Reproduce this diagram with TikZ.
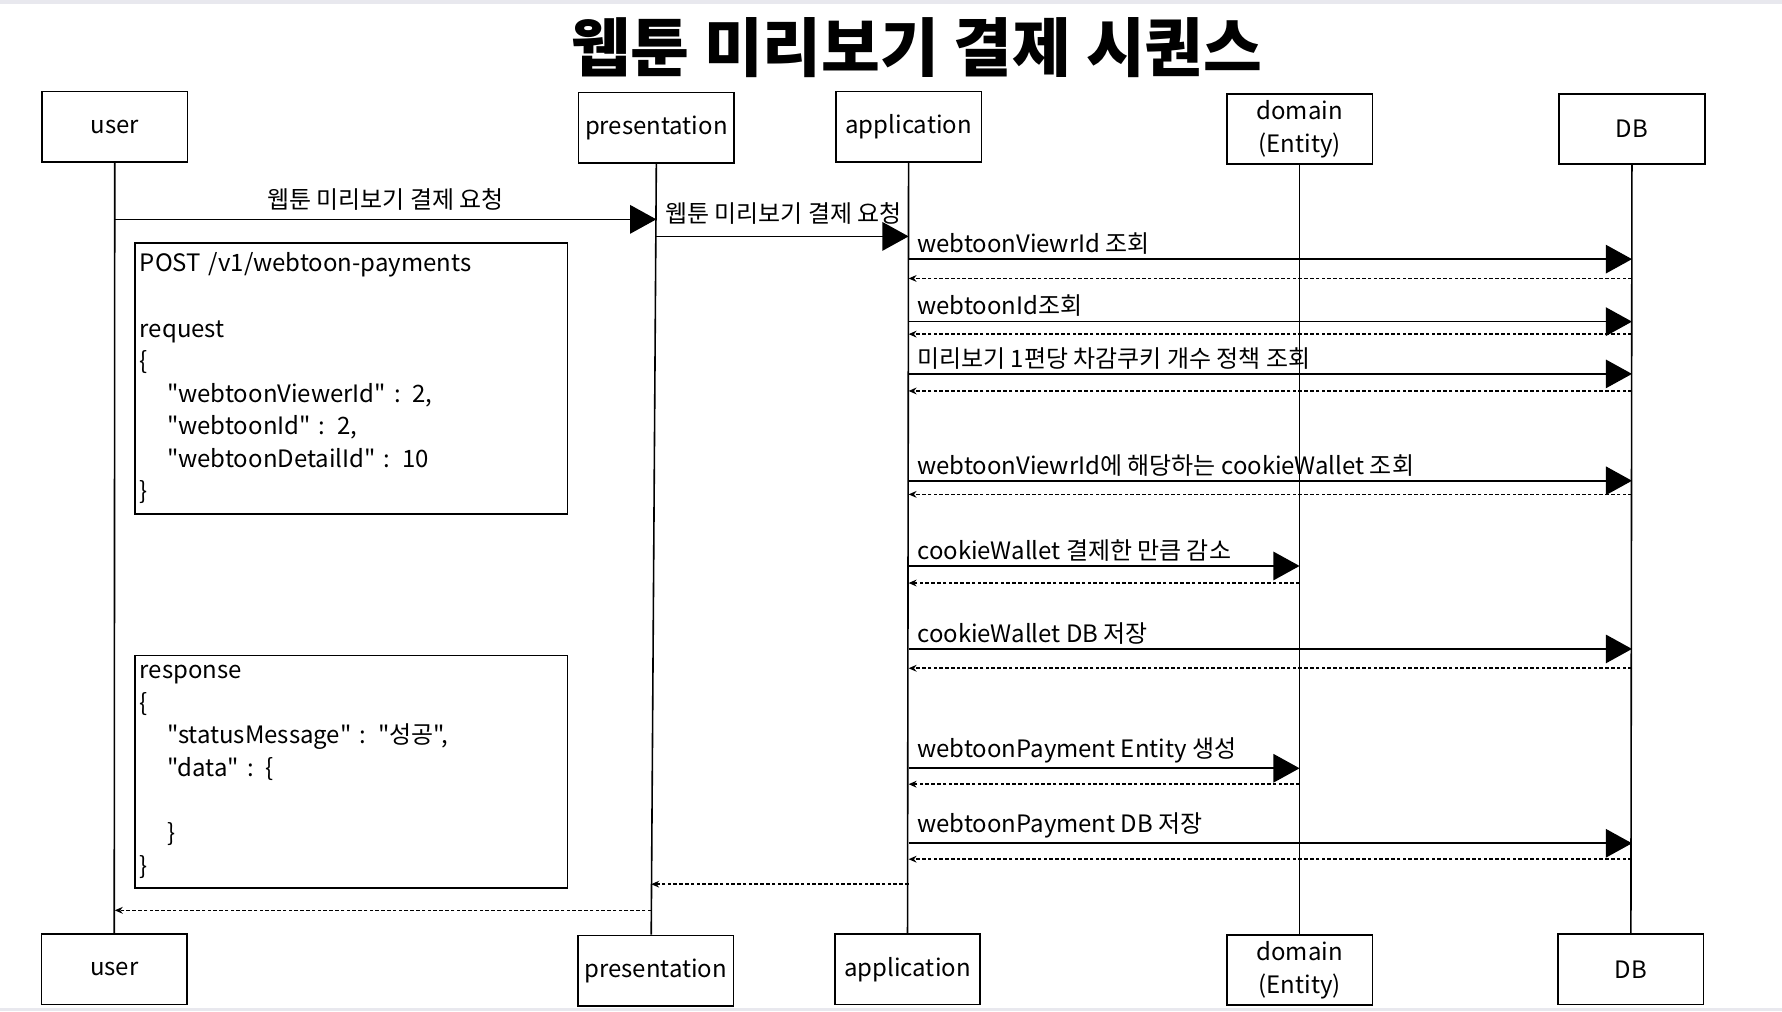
\documentclass[tikz,border=0pt]{standalone}
\usepackage{fontspec}
\setmainfont{Noto Sans CJK KR}[Ligatures=TeXOff]
\usetikzlibrary{arrows.meta,positioning}
\definecolor{edgegray}{HTML}{E8E8EE}

\begin{document}
\begin{tikzpicture}[
  x=0.02cm, y=-0.02cm,
  every node/.style={font=\fontsize{12}{16.3}\selectfont},
  lifebox/.style={rectangle, draw, line width=0.8pt, minimum width=2.56cm, minimum height=1.24cm, align=center, inner sep=2pt},
  notebox/.style={rectangle, draw, line width=0.8pt, anchor=north west, text width=7.44cm, align=left, inner xsep=2.5pt, inner ysep=5pt},
  msg/.style={-{Triangle[length=0.46cm,width=0.5cm]}, line width=0.8pt},
  ret/.style={-{Stealth[length=1.4mm,width=1.2mm]}, line width=0.8pt, dash pattern=on 1.8pt off 1.1pt},
  lbl/.style={anchor=south west, inner xsep=4pt, inner ysep=2pt}
]

% page
\fill[edgegray] (0,0) rectangle (1568,890);
\fill[white] (0,3.5) rectangle (1568,887);

\node[font=\fontsize{32}{38}\selectfont\bfseries] (title) at (807,42) {웹툰 미리보기 결제 시퀀스};

% participants (top)
\node[lifebox] (user) at (101,111.5) {user};
\node[lifebox, minimum width=2.74cm] (pres) at (577.5,112.5) {presentation};
\node[lifebox] (app) at (799.5,111.5) {application};
\node[lifebox] (dom) at (1143.5,113.5) {domain\\(Entity)};
\node[lifebox] (db) at (1436,113.5) {DB};

% participants (bottom)
\node[lifebox] (userB) at (100.5,853) {user};
\node[lifebox, minimum width=2.74cm] (presB) at (577,854) {presentation};
\node[lifebox] (appB) at (798.5,853) {application};
\node[lifebox] (domB) at (1143.5,853.5) {domain\\(Entity)};
\node[lifebox] (dbB) at (1435,853) {DB};

% lifelines
\draw[line width=0.8pt] (user) -- (userB);
\draw[line width=0.8pt] (pres.south) -- ([xshift=-0.08cm]presB.north);
\draw[line width=0.8pt] (app) -- (appB);
\draw[line width=0.8pt] (dom) -- (domB);
\draw[line width=0.8pt] (db) -- (dbB);

% notes
\node[notebox] (req) at (118,213) {POST /v1/webtoon-payments\\
\mbox{}\\
request\\
\{\\
\hspace*{0.48cm}"webtoonViewerId" : 2,\\
\hspace*{0.48cm}"webtoonId" : 2,\\
\hspace*{0.48cm}"webtoonDetailId" : 10\\
\}};

\node[notebox] (res) at (118,576) {response\\
\{\\
\hspace*{0.48cm}"statusMessage" : "성공",\\
\hspace*{0.48cm}"data" : \{\\
\mbox{}\\
\hspace*{0.48cm}\}\\
\}};

% message rows
\coordinate (r1) at (0,193);
\coordinate (r2) at (0,208);
\coordinate (r3) at (0,228);
\coordinate (s3) at (0,245);
\coordinate (r4) at (0,283);
\coordinate (s4) at (0,294);
\coordinate (r5) at (0,329);
\coordinate (s5) at (0,344);
\coordinate (r6) at (0,423);
\coordinate (s6) at (0,435);
\coordinate (r7) at (0,498);
\coordinate (s7) at (0,513);
\coordinate (r8) at (0,571);
\coordinate (s8) at (0,588);
\coordinate (r9) at (0,676);
\coordinate (s9) at (0,690);
\coordinate (r10) at (0,742);
\coordinate (s10) at (0,756);
\coordinate (s11) at (0,778);
\coordinate (s12) at (0,801);

% requests
\draw[msg] (user |- r1) -- node[above, inner sep=4pt] {웹툰 미리보기 결제 요청} (pres |- r1);
\draw[msg] (pres |- r2) -- node[lbl, pos=0, yshift=0.12cm] {웹툰 미리보기 결제 요청} (app |- r2);
\draw[msg] (app |- r3) -- node[lbl, pos=0] {webtoonViewrId 조회} (db |- r3);
\draw[ret] (db |- s3) -- (app |- s3);
\draw[msg] (app |- r4) -- node[lbl, pos=0] {webtoonId조회} (db |- r4);
\draw[ret] (db |- s4) -- (app |- s4);
\draw[msg] (app |- r5) -- node[lbl, pos=0] {미리보기 1편당 차감쿠키 개수 정책 조회} (db |- r5);
\draw[ret] (db |- s5) -- (app |- s5);
\draw[msg] (app |- r6) -- node[lbl, pos=0] {webtoonViewrId에 해당하는 cookieWallet 조회} (db |- r6);
\draw[ret] (db |- s6) -- (app |- s6);
\draw[msg] (app |- r7) -- node[lbl, pos=0] {cookieWallet 결제한 만큼 감소} (dom |- r7);
\draw[ret] (dom |- s7) -- (app |- s7);
\draw[msg] (app |- r8) -- node[lbl, pos=0] {cookieWallet DB 저장} (db |- r8);
\draw[ret] (db |- s8) -- (app |- s8);
\draw[msg] (app |- r9) -- node[lbl, pos=0] {webtoonPayment Entity 생성} (dom |- r9);
\draw[ret] (dom |- s9) -- (app |- s9);
\draw[msg] (app |- r10) -- node[lbl, pos=0] {webtoonPayment DB 저장} (db |- r10);
\draw[ret] (db |- s10) -- (app |- s10);

% responses
\draw[ret] (app |- s11) -- ([xshift=-0.08cm]presB.north |- s11);
\draw[ret] ([xshift=-0.08cm]presB.north |- s12) -- (user |- s12);

\end{tikzpicture}
\end{document}
